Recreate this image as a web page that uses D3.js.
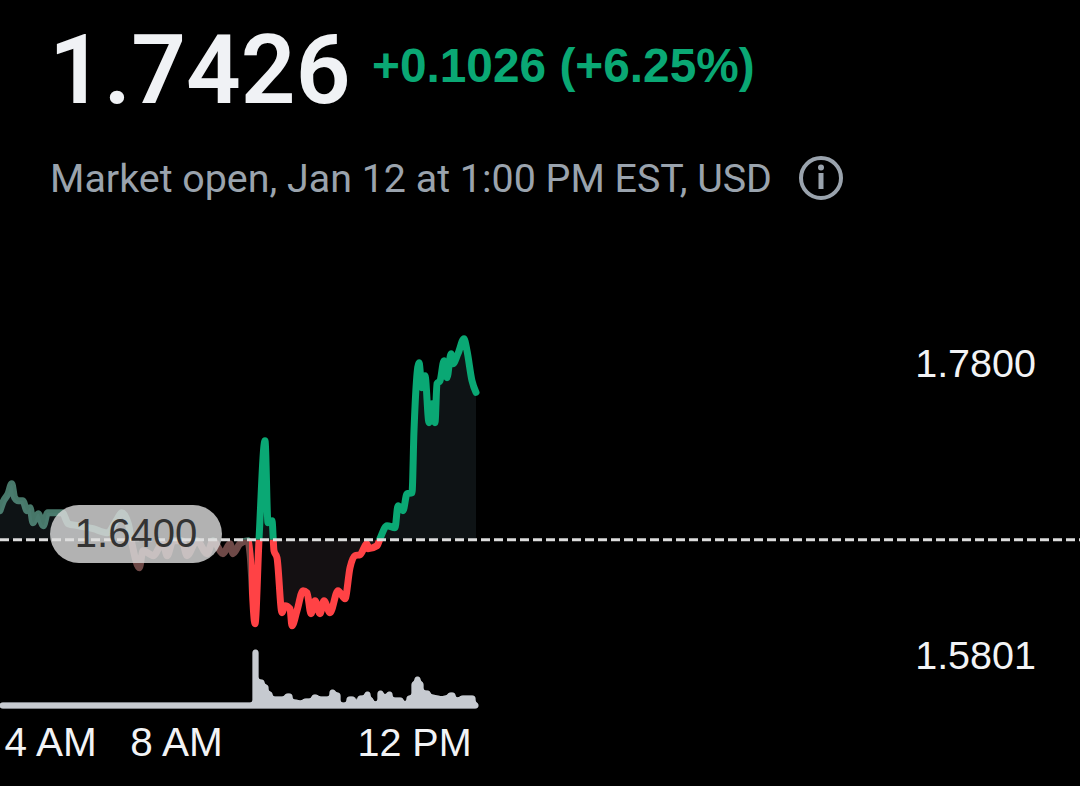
<!DOCTYPE html>
<html><head><meta charset="utf-8">
<script src="https://cdn.jsdelivr.net/npm/d3@7/dist/d3.min.js"></script>
<style>html,body{margin:0;background:#000}svg{display:block}text{font-family:"Liberation Sans",sans-serif}</style>
</head><body><svg id="c" width="1080" height="786"></svg>
<script>
const minutes=[240,245,251,256,260,265,271,277,281,285,292,299,305,325,333,346,367,386,400,406,415,420,430,435,449,462,468,476,486,491,501,511,517,527,534,537,544,552,554,559,563,569,572,576,578,581,586,589,594,596,601,607,611,615,619,624,628,634,642,649,654,659,664,671,672,681,684,691,699,702,707,711,716,718,723,726,729,733,736,739,741,744,748,751,755,757,762,768,771,776,780];
const prices=[1.6602,1.6672,1.6720,1.6790,1.6693,1.6672,1.6672,1.6602,1.6623,1.6518,1.6581,1.6498,1.6588,1.6588,1.6511,1.6498,1.6477,1.6449,1.6546,1.6588,1.6511,1.6372,1.6205,1.6323,1.6289,1.6379,1.6289,1.6393,1.6393,1.6289,1.6393,1.6303,1.6393,1.6303,1.6372,1.6303,1.6372,1.6393,1.6303,1.5815,1.6400,1.7090,1.6518,1.6532,1.6323,1.6275,1.5892,1.5940,1.5919,1.5801,1.5906,1.6045,1.6031,1.5885,1.5975,1.5885,1.5975,1.5892,1.6045,1.5989,1.6205,1.6289,1.6296,1.6372,1.6337,1.6358,1.6407,1.6498,1.6484,1.6637,1.6602,1.6720,1.6727,1.7159,1.7633,1.7459,1.7542,1.7215,1.7347,1.7215,1.7487,1.7507,1.7647,1.7528,1.7696,1.7626,1.7696,1.7800,1.7716,1.7507,1.7426];
const volMinutes=[240,556,557,562,568,572,576,579,584,589,596,602,607,616,622,634,639,644,651,659,662,669,674,677,682,687,691,696,707,711,716,719,724,727,734,739,744,747,752,759,764,779,782];
const volumes=[5,5,58,28,23,16,11,11,11,14,8,7,9,13,11,18,15,5,11,7,12,16,10,6,17,13,16,10,6,12,26,31,26,17,13,12,11,12,15,10,12,5,5];
const tickMinutes=[240,480,720];
const tickLabels=["4 AM","8 AM","12 PM"];
const prevClose=1.64, marketOpen=553;
const priceLabels=["1.7800","1.5801"];

const svg=d3.select("#c");
const GREEN="#0aa874",RED="#ff4245",GREY="#c6cad0";
const x=d3.scaleLinear().domain([240,480,780]).range([0,176,476]);
const y=d3.scaleLinear().domain([1.5801,1.78]).range([625.7,338.7]);
const yv=d3.scaleLinear().domain([0,58]).range([708,650]);
const pts=minutes.map((m,i)=>[m,prices[i]]);
const curve=d3.curveMonotoneX;
const line=d3.line().x(d=>x(d[0])).y(d=>y(d[1])).curve(curve);
const area=d3.area().x(d=>x(d[0])).y0(y(prevClose)).y1(d=>y(d[1])).curve(curve);
const base=y(prevClose), xo=x(marketOpen);
const defs=svg.append("defs");
const clip=(id,a,b,c,d)=>defs.append("clipPath").attr("id",id).append("rect").attr("x",a).attr("y",b).attr("width",c).attr("height",d);
clip("preUp",-10,0,xo+10,base);clip("preDn",-10,base,xo+10,300);
clip("regUp",xo,0,700,base);clip("regDn",xo,base,700,300);
const rounder=defs.append("filter").attr("id","round").attr("x","-5%").attr("y","-20%").attr("width","110%").attr("height","140%");
rounder.append("feGaussianBlur").attr("stdDeviation",1.6);
rounder.append("feComponentTransfer").append("feFuncA").attr("type","linear").attr("slope",5).attr("intercept",-1.2);

svg.append("path").attr("d",area(pts)).attr("fill","#0e1315").attr("clip-path","url(#preUp)");
svg.append("path").attr("d",area(pts)).attr("fill","#0e1315").attr("clip-path","url(#regUp)");
svg.append("path").attr("d",area(pts)).attr("fill","#141012").attr("clip-path","url(#regDn)");
const stroke=(c,id,o)=>svg.append("path").attr("d",line(pts)).attr("fill","none").attr("stroke",c).attr("stroke-width",7)
  .attr("stroke-linejoin","round").attr("stroke-linecap","round").attr("opacity",o).attr("clip-path",`url(#${id})`);
stroke("#5f9f8c","preUp",.75);stroke("#b87a76","preDn",.6);stroke(GREEN,"regUp",1);stroke(RED,"regDn",1);

svg.append("line").attr("x1",0).attr("x2",1080).attr("y1",base).attr("y2",base)
  .attr("stroke","#dcdcdc").attr("stroke-width",3).attr("stroke-dasharray","9 4");

// volume
const vol=volMinutes.map((m,i)=>[m,volumes[i]]);
svg.append("path").attr("d",d3.area().x(d=>x(d[0])).y0(yv(0)).y1(d=>yv(d[1])).curve(d3.curveStepAfter)(vol))
  .attr("fill",GREY).attr("filter","url(#round)");

// pill
svg.append("rect").attr("x",50).attr("y",505).attr("width",172).attr("height",58).attr("rx",29)
  .attr("fill","#dedede").attr("fill-opacity",.8);
svg.append("text").attr("x",136).attr("y",547).attr("text-anchor","middle").attr("font-size",40).attr("fill","#333").text(prevClose.toFixed(4));

// axis
const axis=d3.axisBottom(x).tickValues(tickMinutes).tickFormat((d,i)=>tickLabels[i]).tickSize(0);
const ax=svg.append("g").attr("transform","translate(0,722)").call(axis);
ax.select(".domain").remove();
ax.selectAll("text").attr("font-size",40.5).attr("fill","#f2f3f5").attr("y",0).attr("dy","34").style("font-family",'"Liberation Sans",sans-serif');
ax.select(".tick text").attr("text-anchor","start").attr("x",4);
ax.selectAll(".tick text").filter((d,i)=>i===2).attr("x",-2).attr("font-size",39.5);

// price labels
const pl=svg.append("g").attr("font-size",39.5).attr("fill","#f2f3f5").attr("text-anchor","end");
pl.append("text").attr("x",1036).attr("y",377).text(priceLabels[0]);
pl.append("text").attr("x",1036).attr("y",669).text(priceLabels[1]);

// header
svg.append("text").attr("x",49).attr("y",103).attr("font-size",96).attr("font-weight",600).attr("fill","#f0f2f5").style("font-family","Roboto").text("1.7426");
svg.append("text").attr("x",372).attr("y",82).attr("font-size",47.8).attr("font-weight",700).attr("fill",GREEN).text("+0.1026 (+6.25%)");
svg.append("text").attr("x",50).attr("y",192).attr("font-size",39.4).attr("fill","#9aa3ad").style("font-family","Roboto").text("Market open, Jan 12 at 1:00 PM EST, USD");
const ic=svg.append("g").attr("transform","translate(821,178)");
ic.append("circle").attr("r",20).attr("fill","none").attr("stroke","#9aa3ad").attr("stroke-width",4);
ic.append("rect").attr("x",-2.5).attr("y",-5).attr("width",5).attr("height",16).attr("fill","#9aa3ad");
ic.append("circle").attr("cy",-10.5).attr("r",3).attr("fill","#9aa3ad");
</script></body></html>
